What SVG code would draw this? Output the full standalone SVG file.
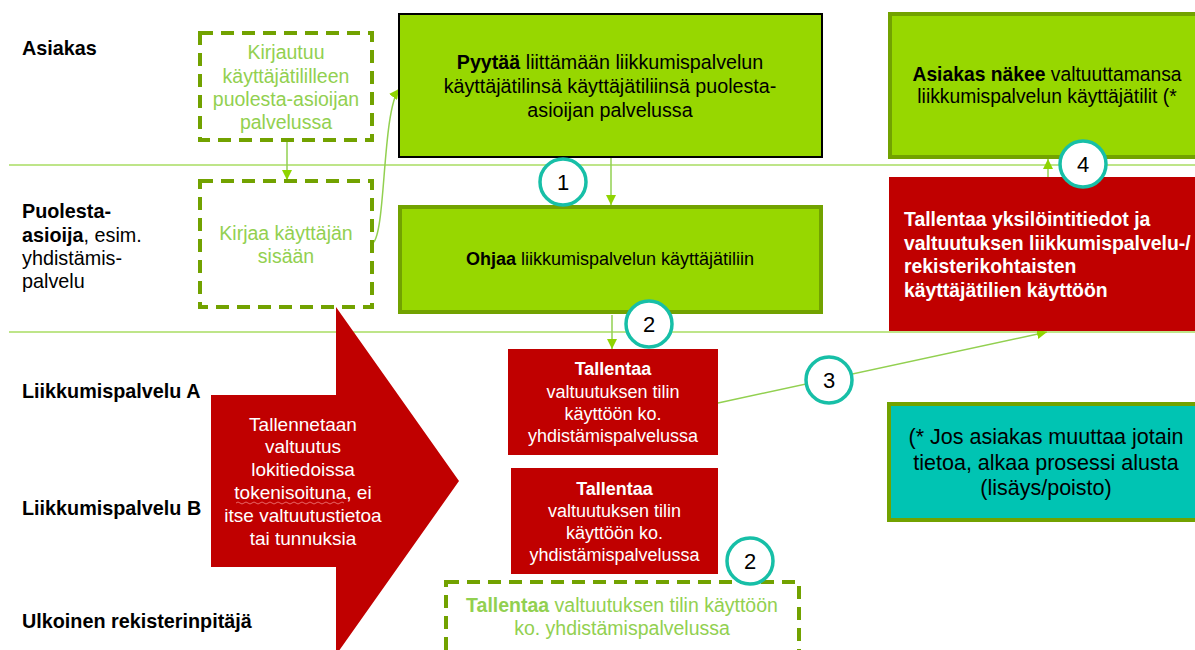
<svg xmlns="http://www.w3.org/2000/svg" width="1195" height="650" viewBox="0 0 1195 650">
<defs>
<marker id="ah" viewBox="0 0 10 10" refX="10" refY="5" markerWidth="10" markerHeight="10" markerUnits="userSpaceOnUse" orient="auto">
<path d="M0,0 L10,5 L0,10 z" fill="#8fd400"/>
</marker>
<style>
text{font-family:"Liberation Sans",Arial,sans-serif;}
.lane{stroke:#a9dc62;stroke-width:1.5;fill:none;}
.con{stroke:#92d050;stroke-width:1.5;fill:none;marker-end:url(#ah);}
.dash{fill:#fff;stroke:#72a200;stroke-width:4;stroke-dasharray:13 8;}
.gbox{fill:#97d700;stroke:#72a200;stroke-width:4;}
.red{fill:#c00000;}
.lbl{font-size:19.8px;fill:#000;}
.b{font-weight:bold;}
.gt{fill:#92d050;font-size:19.5px;text-anchor:middle;}
.bt{fill:#000;text-anchor:middle;}
.wt{fill:#fff;text-anchor:middle;}
.num circle{fill:#fff;stroke:#17bfa7;stroke-width:3.5;}
.num text{font-size:22px;fill:#000;text-anchor:middle;}
</style>
</defs>
<rect width="1195" height="650" fill="#fff"/>

<g id="lanes">
<line class="lane" x1="9" y1="165" x2="1195" y2="165"/>
<line class="lane" x1="9" y1="332" x2="1195" y2="332"/>
</g>

<g id="lane-labels">
<text class="lbl b" x="22" y="55">Asiakas</text>
<text class="lbl" x="22" y="218"><tspan class="b">Puolesta-</tspan><tspan x="22" y="242"><tspan class="b">asioija</tspan>, esim.</tspan><tspan x="22" y="265">yhdistämis-</tspan><tspan x="22" y="288">palvelu</tspan></text>
<text class="lbl b" x="22" y="398">Liikkumispalvelu A</text>
<text class="lbl b" x="22" y="515">Liikkumispalvelu B</text>
<text class="lbl b" x="22" y="628">Ulkoinen rekisterinpitäjä</text>
</g>

<g id="big-arrow">
<polygon class="red" points="211,395 336,395 336,307 459,481 336,655 336,567 211,567"/>
<text class="wt" font-size="19" x="303" y="431">Tallennetaan<tspan x="303" y="453">valtuutus</tspan><tspan x="303" y="476">lokitiedoissa</tspan><tspan x="303" y="499">tokenisoituna, ei</tspan><tspan x="303" y="522">itse valtuutustietoa</tspan><tspan x="303" y="545">tai tunnuksia</tspan></text>
<path d="M236,503 q2,-2 4,0 t4,0 t4,0 t4,0 t4,0 t4,0 t4,0 t4,0 t4,0 t4,0 t4,0 t4,0 t4,0 t4,0 t4,0 t4,0 t4,0 t4,0 t4,0 t4,0 t4,0 t4,0 t4,0 t4,0 t4,0 t4,0 t4,0" fill="none" stroke="#f08080" stroke-width="0.8"/>
</g>

<g id="connectors">
<line class="con" x1="287" y1="141" x2="287" y2="180"/>
<path class="con" d="M373,243 C386,232 382,112 399,89"/>
<line class="con" x1="611" y1="158" x2="611" y2="205"/>
<line class="con" x1="612" y1="315" x2="612" y2="349"/>
<line class="con" x1="1048" y1="177" x2="1048" y2="159"/>
<line class="con" x1="718" y1="403" x2="1047" y2="332"/>
</g>

<g id="n-kirjautuu">
<rect class="dash" x="200" y="33" width="172" height="107"/>
<text class="gt" x="286" y="59">Kirjautuu<tspan x="286" y="83">käyttäjätililleen</tspan><tspan x="286" y="106">puolesta-asioijan</tspan><tspan x="286" y="129">palvelussa</tspan></text>
</g>

<g id="n-kirjaa">
<rect class="dash" x="200" y="181" width="172" height="126"/>
<text class="gt" font-size="20" x="286" y="240">Kirjaa käyttäjän<tspan x="286" y="263">sisään</tspan></text>
</g>

<g id="n-pyytaa">
<rect x="399" y="14" width="423" height="143" fill="#97d700" stroke="#000" stroke-width="2"/>
<text class="bt" font-size="19.7" x="610" y="69"><tspan class="b">Pyytää</tspan> liittämään liikkumispalvelun<tspan x="610" y="93">käyttäjätilinsä käyttäjätiliinsä puolesta-</tspan><tspan x="610" y="117">asioijan palvelussa</tspan></text>
</g>

<g id="n-ohjaa">
<rect class="gbox" x="400" y="207" width="421" height="105"/>
<text class="bt" font-size="18" x="610" y="265"><tspan class="b">Ohjaa</tspan> liikkumispalvelun käyttäjätiliin</text>
</g>

<g id="n-nakee">
<rect class="gbox" x="890" y="14" width="310" height="143"/>
<text class="bt" font-size="19.3" x="1047" y="81"><tspan class="b">Asiakas näkee</tspan> valtuuttamansa<tspan x="1047" y="103">liikkumispalvelun käyttäjätilit (*</tspan></text>
</g>

<g id="n-tallentaa-yks">
<rect class="red" x="889" y="177" width="311" height="154"/>
<text fill="#fff" font-weight="bold" font-size="19.4" x="904" y="226">Tallentaa yksilöintitiedot ja<tspan x="904" y="250">valtuutuksen liikkumispalvelu-/</tspan><tspan x="904" y="273">rekisterikohtaisten</tspan><tspan x="904" y="297">käyttäjätilien käyttöön</tspan></text>
</g>

<g id="n-tallentaa-a">
<rect class="red" x="508" y="349" width="210" height="106"/>
<text class="wt" font-size="18" x="613" y="375"><tspan class="b">Tallentaa</tspan><tspan x="613" y="398">valtuutuksen tilin</tspan><tspan x="613" y="420">käyttöön ko.</tspan><tspan x="613" y="442">yhdistämispalvelussa</tspan></text>
</g>

<g id="n-tallentaa-b">
<rect class="red" x="511" y="468" width="207" height="106"/>
<text class="wt" font-size="18" x="614.5" y="495"><tspan class="b">Tallentaa</tspan><tspan x="614.5" y="517">valtuutuksen tilin</tspan><tspan x="614.5" y="539">käyttöön ko.</tspan><tspan x="614.5" y="561">yhdistämispalvelussa</tspan></text>
</g>

<g id="n-ulkoinen">
<rect class="dash" x="446" y="582" width="353" height="80"/>
<text class="gt" font-size="19.8" x="622" y="612"><tspan class="b">Tallentaa</tspan> valtuutuksen tilin käyttöön<tspan x="622" y="635">ko. yhdistämispalvelussa</tspan></text>
</g>

<g id="n-note">
<rect x="889" y="404" width="311" height="116" fill="#00c4b3" stroke="#72a200" stroke-width="4"/>
<text class="bt" font-size="21.5" x="1046" y="444">(* Jos asiakas muuttaa jotain<tspan x="1046" y="470">tietoa, alkaa prosessi alusta</tspan><tspan x="1046" y="495">(lisäys/poisto)</tspan></text>
</g>

<g id="step-1" class="num"><circle cx="563" cy="182" r="23"/><text x="563" y="190">1</text></g>
<g id="step-2a" class="num"><circle cx="649" cy="324" r="23"/><text x="649" y="332">2</text></g>
<g id="step-3" class="num"><circle cx="829" cy="380" r="23"/><text x="829" y="388">3</text></g>
<g id="step-4" class="num"><circle cx="1083" cy="164" r="23"/><text x="1083" y="172">4</text></g>
<g id="step-2b" class="num"><circle cx="750" cy="561" r="23"/><text x="750" y="569">2</text></g>
</svg>
